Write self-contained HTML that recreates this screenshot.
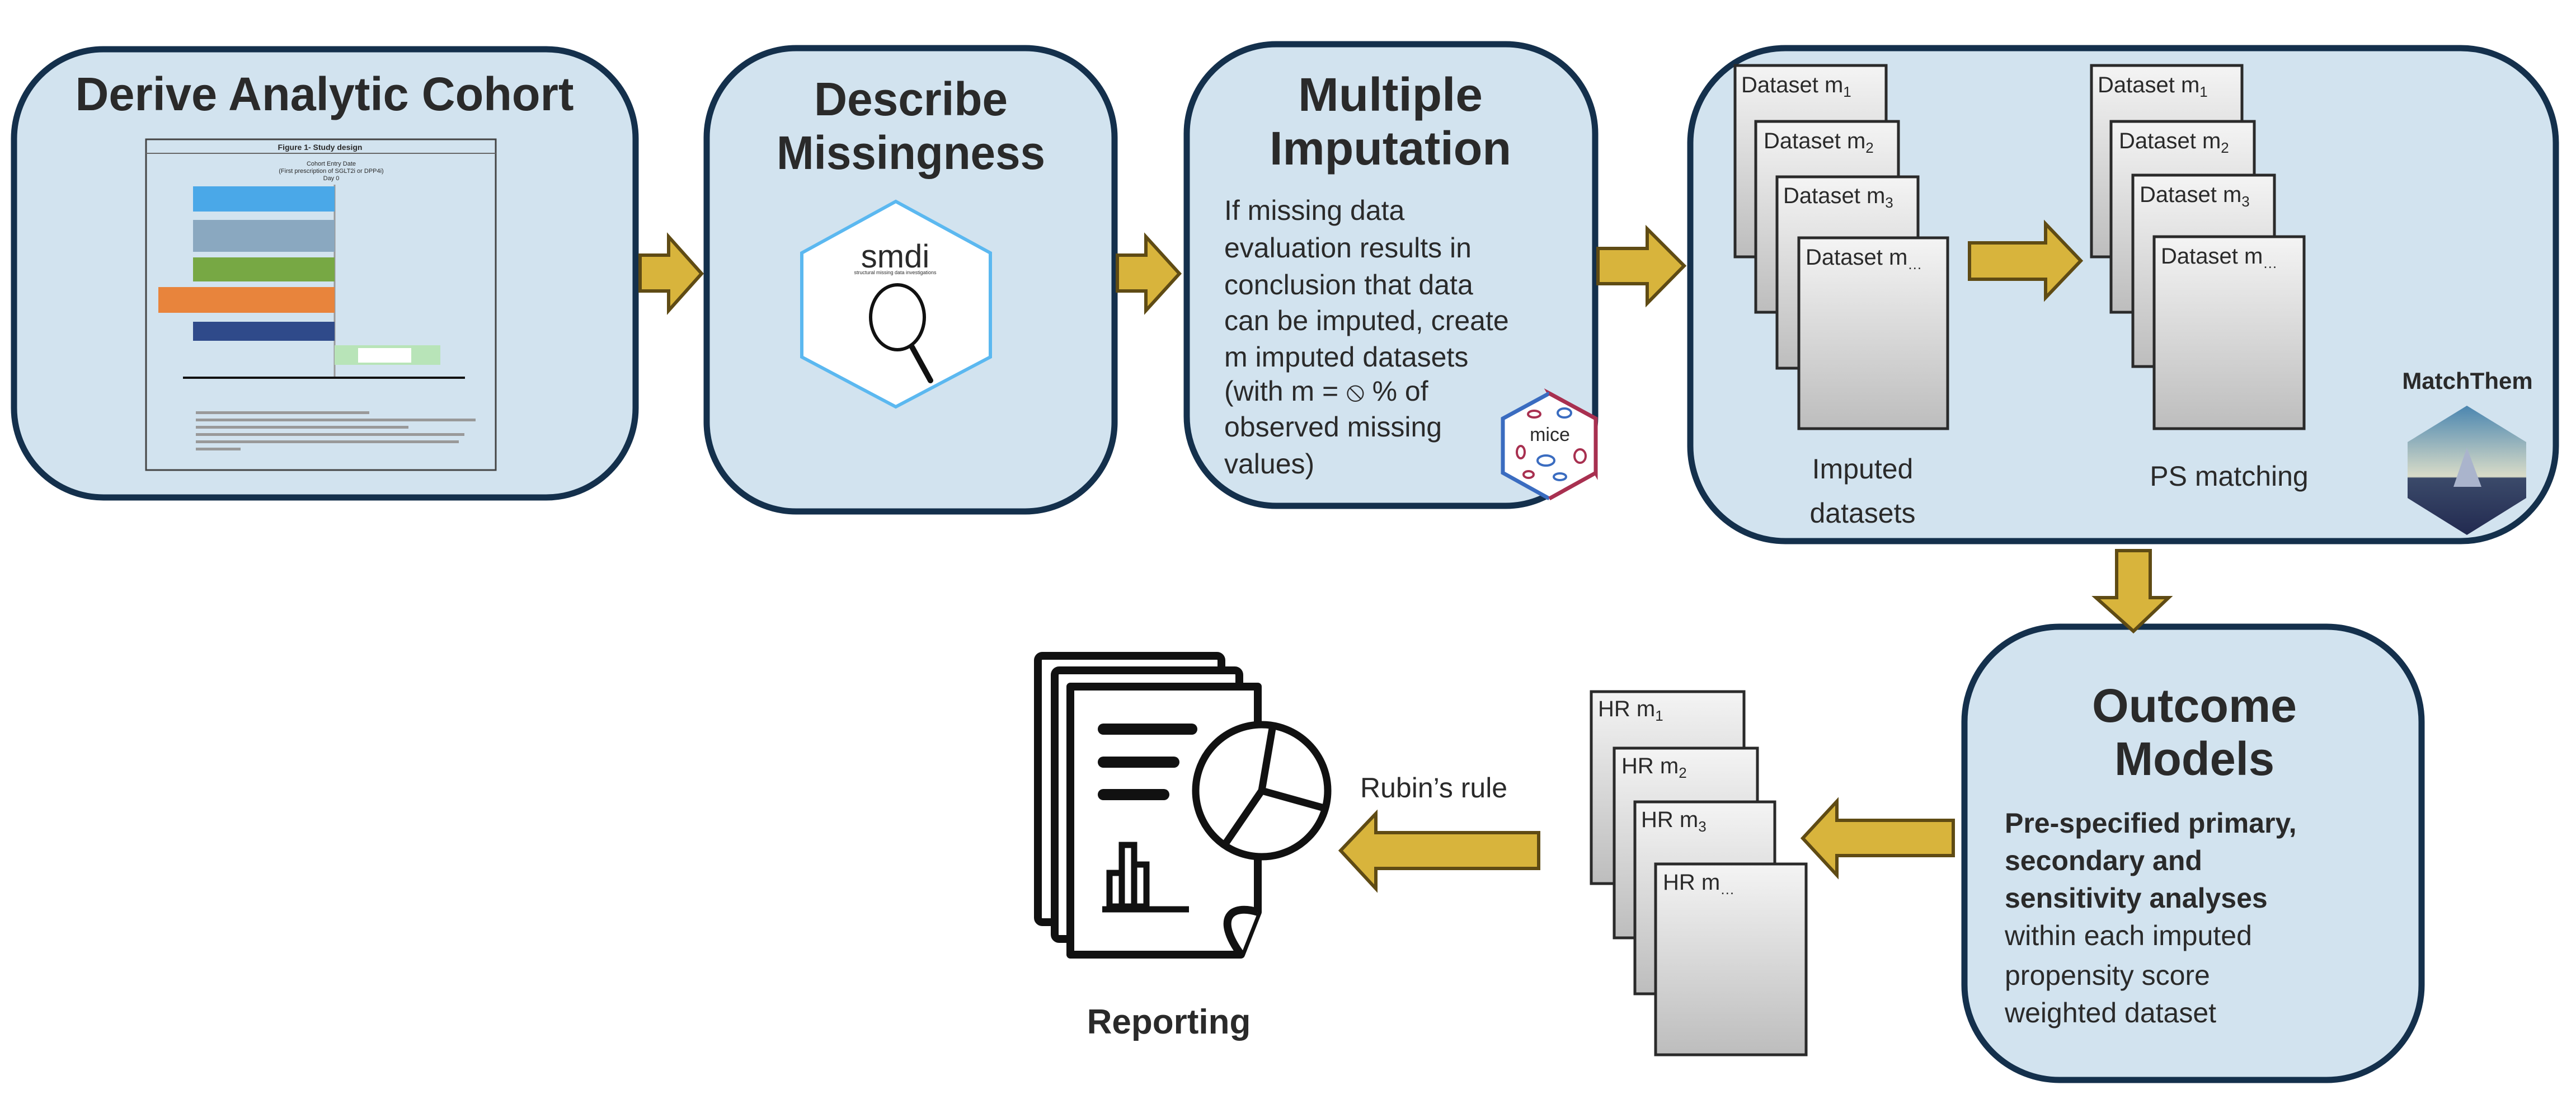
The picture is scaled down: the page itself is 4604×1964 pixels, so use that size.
<!DOCTYPE html>
<html><head><meta charset="utf-8"><style>
html,body{margin:0;padding:0;background:#fff;}
svg{display:block;}
text{font-family:"Liberation Sans",sans-serif;fill:#2a2a2a;}
.t{font-weight:bold;font-size:84px;}
.b{font-size:50px;}
.c{font-size:40px;}
</style></head><body>
<svg width="4604" height="1964" viewBox="0 0 4604 1964" xmlns="http://www.w3.org/2000/svg">
<defs>
<linearGradient id="g" x1="0" y1="0" x2="0" y2="1"><stop offset="0" stop-color="#f4f4f4"/><stop offset="1" stop-color="#bdbdbd"/></linearGradient>
<linearGradient id="sky" x1="0" y1="0" x2="0" y2="1"><stop offset="0" stop-color="#4b86b0"/><stop offset="0.55" stop-color="#d9dcc8"/><stop offset="0.56" stop-color="#3b4a6a"/><stop offset="1" stop-color="#222a50"/></linearGradient>
</defs>
<g fill="#d2e3ef" stroke="#14304c" stroke-width="11">
<rect x="25" y="88" width="1111" height="801" rx="160"/>
<rect x="1263" y="86" width="729" height="828" rx="160"/>
<rect x="2121" y="79" width="730" height="825" rx="160"/>
<rect x="3021" y="86" width="1547" height="881" rx="170"/>
<rect x="3511" y="1120" width="817" height="810" rx="170"/>
</g>
<text class="t" x="580" y="197" text-anchor="middle" textLength="891" lengthAdjust="spacingAndGlyphs">Derive Analytic Cohort</text>
<text class="t" x="1628" y="206" text-anchor="middle" textLength="346" lengthAdjust="spacingAndGlyphs">Describe</text>
<text class="t" x="1628" y="302" text-anchor="middle" textLength="480" lengthAdjust="spacingAndGlyphs">Missingness</text>
<text class="t" x="2485" y="198" text-anchor="middle" textLength="330" lengthAdjust="spacingAndGlyphs">Multiple</text>
<text class="t" x="2485" y="294" text-anchor="middle" textLength="432" lengthAdjust="spacingAndGlyphs">Imputation</text>
<text class="t" x="3922" y="1290" text-anchor="middle" textLength="366" lengthAdjust="spacingAndGlyphs">Outcome</text>
<text class="t" x="3922" y="1385" text-anchor="middle" textLength="286" lengthAdjust="spacingAndGlyphs">Models</text>
<!-- figure -->
<g>
<rect x="261" y="249" width="625" height="591" fill="none" stroke="#444" stroke-width="3"/>
<line x1="261" y1="274" x2="886" y2="274" stroke="#666" stroke-width="2"/>
<text x="572" y="268" font-size="14" text-anchor="middle" font-weight="bold">Figure 1- Study design</text>
<text x="592" y="296" font-size="11" text-anchor="middle">Cohort Entry Date</text>
<text x="592" y="309" font-size="11" text-anchor="middle">(First prescription of SGLT2i or DPP4i)</text>
<text x="592" y="322" font-size="11" text-anchor="middle">Day 0</text>
<line x1="598" y1="330" x2="598" y2="675" stroke="#999" stroke-width="3"/>
<rect x="345" y="333" width="253" height="45" fill="#4aa8e8"/>
<rect x="345" y="393" width="253" height="57" fill="#8aa8c0"/>
<rect x="345" y="460" width="253" height="43" fill="#77a844"/>
<rect x="283" y="513" width="315" height="46" fill="#e8843c"/>
<rect x="345" y="575" width="253" height="34" fill="#2f4a8a"/>
<rect x="598" y="617" width="189" height="35" fill="#b8e4b8"/>
<rect x="640" y="622" width="95" height="26" fill="#fff"/>
<line x1="327" y1="675" x2="831" y2="675" stroke="#111" stroke-width="4"/>
<g fill="#999"><rect x="350" y="735" width="310" height="5"/><rect x="350" y="748" width="500" height="5"/><rect x="350" y="761" width="380" height="5"/><rect x="350" y="774" width="480" height="5"/><rect x="350" y="787" width="470" height="5"/><rect x="350" y="800" width="80" height="5"/></g>
</g>
<!-- smdi hex -->
<polygon points="1601,360 1770,452 1770,638 1601,727 1433,638 1433,452" fill="#fff" stroke="#5bb8f0" stroke-width="6"/>
<text x="1600" y="478" font-size="58" text-anchor="middle" fill="#111">smdi</text>
<text x="1600" y="490" font-size="9" text-anchor="middle">structural missing data investigations</text>
<ellipse cx="1604" cy="567" rx="48" ry="58" fill="#fff" stroke="#111" stroke-width="6"/>
<line x1="1630" y1="620" x2="1663" y2="680" stroke="#111" stroke-width="10" stroke-linecap="round"/>
<!-- box3 body -->
<g class="b">
<text x="2188" y="393">If missing data</text>
<text x="2188" y="460">evaluation results in</text>
<text x="2188" y="526">conclusion that data</text>
<text x="2188" y="590">can be imputed, create</text>
<text x="2188" y="655">m imputed datasets</text>
<text x="2188" y="716">(with m = ⦸ % of</text>
<text x="2188" y="780">observed missing</text>
<text x="2188" y="846">values)</text>
</g>
<!-- mice hex -->
<polygon points="2769,703 2852,748 2852,845" fill="none" stroke="#a83050" stroke-width="7"/>
<polygon points="2852,845 2769,891" fill="none" stroke="#a83050" stroke-width="7"/>
<polygon points="2769,703 2852,748 2852,845 2769,891 2686,845 2686,748" fill="#fff"/>
<polyline points="2769,703 2686,748 2686,845 2769,891" fill="none" stroke="#3a6cc0" stroke-width="7"/>
<polyline points="2769,703 2852,748 2852,845 2769,891" fill="none" stroke="#a83050" stroke-width="7"/>
<text x="2770" y="788" font-size="34" text-anchor="middle" fill="#111">mice</text>
<g fill="none" stroke-width="4"><ellipse cx="2742" cy="740" rx="11" ry="6" stroke="#a83050"/><ellipse cx="2796" cy="738" rx="12" ry="8" stroke="#3a6cc0"/><ellipse cx="2718" cy="808" rx="7" ry="11" stroke="#a83050"/><ellipse cx="2763" cy="823" rx="15" ry="9" stroke="#3a6cc0"/><ellipse cx="2732" cy="848" rx="9" ry="6" stroke="#a83050"/><ellipse cx="2788" cy="852" rx="11" ry="6" stroke="#3a6cc0"/><ellipse cx="2824" cy="815" rx="10" ry="12" stroke="#a83050"/></g>
<!-- arrows -->
<g fill="#d8b43c" stroke="#5f4b14" stroke-width="6" stroke-linejoin="miter">
<polygon points="1144,456 1195,456 1195,423 1254,489 1195,555 1195,520 1144,520"/>
<polygon points="1997,456 2048,456 2048,423 2108,489 2048,555 2048,520 1997,520"/>
<polygon points="2856,444 2944,444 2944,409 3010,475 2944,542 2944,507 2856,507"/>
<polygon points="3520,434 3656,434 3656,400 3719,466 3656,532 3656,499 3520,499"/>
<polygon points="3783,984 3843,984 3843,1068 3876,1068 3813,1128 3746,1068 3783,1068"/>
<polygon points="3491,1466 3283,1466 3283,1432 3222,1498 3283,1564 3283,1529 3491,1529"/>
<polygon points="2750,1488 2459,1488 2459,1454 2396,1520 2459,1588 2459,1552 2750,1552"/>
</g>
<!-- dataset cards -->
<g fill="url(#g)" stroke="#2a2a2a" stroke-width="5">
<rect x="3101" y="117" width="270" height="342"/><rect x="3138" y="217" width="255" height="341"/><rect x="3176" y="316" width="252" height="342"/><rect x="3215" y="425" width="266" height="341"/>
<rect x="3738" y="117" width="269" height="342"/><rect x="3773" y="217" width="256" height="341"/><rect x="3812" y="313" width="253" height="342"/><rect x="3850" y="423" width="268" height="343"/>
<rect x="2844" y="1236" width="273" height="343"/><rect x="2885" y="1337" width="256" height="339"/><rect x="2922" y="1433" width="250" height="343"/><rect x="2959" y="1544" width="269" height="341"/>
</g>
<g class="c">
<text x="3112" y="165">Dataset m<tspan font-size="26" dy="8">1</tspan></text>
<text x="3152" y="265">Dataset m<tspan font-size="26" dy="8">2</tspan></text>
<text x="3187" y="363">Dataset m<tspan font-size="26" dy="8">3</tspan></text>
<text x="3227" y="473">Dataset m<tspan font-size="26" dy="8">…</tspan></text>
<text x="3749" y="165">Dataset m<tspan font-size="26" dy="8">1</tspan></text>
<text x="3787" y="265">Dataset m<tspan font-size="26" dy="8">2</tspan></text>
<text x="3824" y="361">Dataset m<tspan font-size="26" dy="8">3</tspan></text>
<text x="3862" y="471">Dataset m<tspan font-size="26" dy="8">…</tspan></text>
<text x="2856" y="1280">HR m<tspan font-size="26" dy="8">1</tspan></text>
<text x="2898" y="1382">HR m<tspan font-size="26" dy="8">2</tspan></text>
<text x="2933" y="1478">HR m<tspan font-size="26" dy="8">3</tspan></text>
<text x="2972" y="1590">HR m<tspan font-size="26" dy="8">…</tspan></text>
</g>
<g class="b" text-anchor="middle">
<text x="3329" y="855">Imputed</text>
<text x="3329" y="934">datasets</text>
<text x="3984" y="868">PS matching</text>
</g>
<text x="4410" y="695" font-size="42" font-weight="bold" text-anchor="middle">MatchThem</text>
<polygon points="4409,725 4515,790 4515,890 4409,956 4303,890 4303,790" fill="url(#sky)"/>
<polygon points="4409,800 4385,870 4435,870" fill="#aab4cc"/>
<!-- outcome text -->
<g class="b">
<text x="3583" y="1488" font-weight="bold">Pre-specified primary,</text>
<text x="3583" y="1555" font-weight="bold">secondary and</text>
<text x="3583" y="1622" font-weight="bold">sensitivity analyses</text>
<text x="3583" y="1689">within each imputed</text>
<text x="3583" y="1760">propensity score</text>
<text x="3583" y="1827">weighted dataset</text>
</g>
<text class="b" x="2431" y="1425">Rubin’s rule</text>
<!-- reporting icon -->
<g fill="#fff" stroke="#111" stroke-width="14" stroke-linejoin="round">
<rect x="1855" y="1172" width="328" height="476" rx="8"/>
<rect x="1885" y="1198" width="330" height="480" rx="8"/>
<path d="M1913,1227 L2248,1227 L2248,1630 L2218,1706 L1913,1706 Z"/>
<path d="M2248,1630 C2200,1615 2170,1640 2218,1706"/>
</g>
<g stroke="#111" stroke-width="20" stroke-linecap="round" fill="none">
<line x1="1972" y1="1303" x2="2130" y2="1303"/>
<line x1="1972" y1="1362" x2="2098" y2="1362"/>
<line x1="1972" y1="1420" x2="2080" y2="1420"/>
</g>
<circle cx="2255" cy="1413" r="118" fill="#fff" stroke="#111" stroke-width="13"/>
<g stroke="#111" stroke-width="13" fill="none"><line x1="2255" y1="1413" x2="2275" y2="1296"/><line x1="2255" y1="1413" x2="2370" y2="1445"/><line x1="2255" y1="1413" x2="2190" y2="1508"/></g>
<g fill="none" stroke="#111" stroke-width="11"><rect x="1983" y="1560" width="22" height="60"/><rect x="2005" y="1510" width="22" height="110"/><rect x="2027" y="1545" width="22" height="75"/><line x1="1970" y1="1625" x2="2125" y2="1625"/></g>
<text x="2089" y="1847" font-size="62" font-weight="bold" text-anchor="middle">Reporting</text>
</svg>
</body></html>
